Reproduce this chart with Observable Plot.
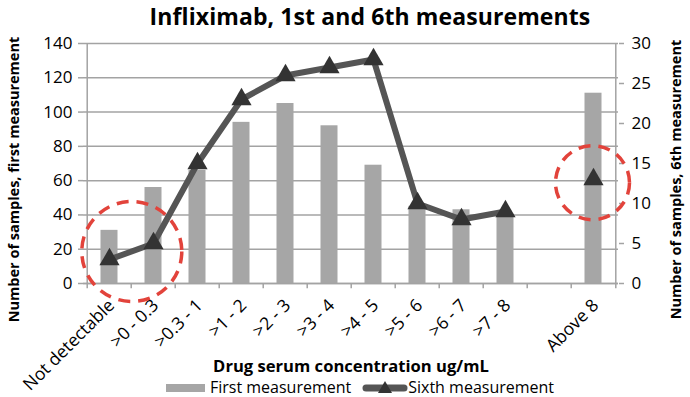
<!DOCTYPE html>
<html>
<head>
<meta charset="utf-8">
<script src="https://cdn.jsdelivr.net/npm/d3@7"></script>
<script src="https://cdn.jsdelivr.net/npm/@observablehq/plot@0.6"></script>
<style>
  body { margin: 0; background: #fff; font-family: "Open Sans", sans-serif; }
  #wrap { width: 690px; height: 397px; position: relative; overflow: hidden; }
  #title { height: 28px; line-height: 32px; padding-left: 50px; text-align: center; font-weight: bold; font-size: 23px; letter-spacing: 0.1px; color: #000; position: relative; z-index: 2; white-space: nowrap; }
  #chart svg { overflow: visible; display: block; }
  #legend { height: 19px; padding-left: 30px; display: flex; justify-content: center; align-items: center; font-size: 16px; line-height: 19px; color: #000; }
  .sw-bar { display: inline-block; width: 39px; height: 8px; background: #a6a6a6; margin-right: 5px; }
  .sw-line { display: inline-block; width: 46px; height: 16px; margin-left: 11px; margin-right: 0px; }
  svg text { font-family: "Open Sans", sans-serif; }
</style>
</head>
<body>
<div id="wrap">
  <div id="title">Infliximab, 1st and 6th measurements</div>
  <div id="chart"></div>
  <div id="legend"><span class="sw-bar"></span><span>First measurement</span><svg class="sw-line" width="46" height="16"><line x1="4" y1="8" x2="42" y2="8" stroke="#555" stroke-width="7" stroke-linecap="round"/><path d="M23,1 L30,13 L16,13 Z" fill="#333"/></svg><span>Sixth measurement</span></div>
</div>
<script>
const categories = ["Not detectable", ">0 - 0.3", ">0.3 - 1", ">1 - 2", ">2 - 3", ">3 - 4", ">4 - 5", ">5 - 6", ">6 - 7", ">7 - 8", " ", "Above 8"];
const firstMeasurement = [31, 56, 66, 94, 105, 92, 69, 45, 43, 40, null, 111];
const sixthMeasurement = [3, 5, 15, 23, 26, 27, 28, 10, 8, 9, null, 13];
const leftTicks = [0, 20, 40, 60, 80, 100, 120, 140];
const rightTicks = [0, 5, 10, 15, 20, 25, 30];
const leftMax = 140, rightMax = 30;
// dashed highlight rings (annotation): category, level on the 6th-measurement axis
const ringLow = {category: "Not detectable", value: 4};
const ringHigh = {category: "Above 8", value: 12.6};

const toLeft = v => v * leftMax / rightMax;
const rows = categories.map((c, i) => ({c, first: firstMeasurement[i], sixth: sixthMeasurement[i] == null ? null : toLeft(sixthMeasurement[i])}));

const W = 690, H = 350, mL = 83, mR = 72, mT = 15, mB = 95;
const step = (W - mL - mR) / categories.length;
const grey = "#a3a3a3";
const red = "#e2433b";

const chart = Plot.plot({
  width: W, height: H,
  marginLeft: mL, marginRight: mR, marginTop: mT, marginBottom: mB,
  style: {fontFamily: "Open Sans, sans-serif", color: "#000", background: "transparent", overflow: "visible"},
  x: {domain: categories, padding: 0},
  y: {domain: [0, leftMax]},
  marks: [
    Plot.gridY(leftTicks, {stroke: grey, strokeOpacity: 1, strokeWidth: 1.5}),
    Plot.ruleX([categories[0]], {dx: -step / 2, stroke: grey, strokeWidth: 1.5}),
    Plot.ruleX([categories[categories.length - 1]], {dx: step / 2, stroke: grey, strokeWidth: 1.5}),
    Plot.ruleX(categories, {dx: -step / 2, y1: 0, y2: -3, stroke: grey, strokeWidth: 1.5}),
    Plot.ruleX([categories[categories.length - 1]], {dx: step / 2, y1: 0, y2: -3, stroke: grey, strokeWidth: 1.5}),
    Plot.barY(rows.filter(d => d.first != null), {x: "c", y: "first", fill: "#a6a6a6", insetLeft: 13.5, insetRight: 13.5}),
    Plot.axisY(leftTicks, {anchor: "left", tickSize: 5, tickPadding: 6, stroke: grey, strokeWidth: 1.5, fontSize: 17, label: null}),
    Plot.axisY(rightTicks.map(toLeft), {anchor: "right", tickSize: 5, tickPadding: 8, stroke: grey, strokeWidth: 1.5, fontSize: 17, tickFormat: d => Math.round(d * rightMax / leftMax), label: null}),
    Plot.axisX({tickRotate: -45, tickSize: 0, tickPadding: 19, dx: 2, fontSize: 17.5, label: null, tickFormat: d => d.trim()}),
    Plot.ruleY([0], {stroke: grey, strokeWidth: 1.5}),
    Plot.line(rows, {x: "c", y: "sixth", stroke: "#555", strokeWidth: 6, curve: "linear"}),
    Plot.dot(rows.filter(d => d.sixth != null), {x: "c", y: "sixth", symbol: "triangle", r: 7.5, fill: "#333", stroke: "none"}),
    Plot.dot([ringLow], {x: "category", y: d => toLeft(d.value), r: 50, dx: step / 2, fill: "none", stroke: red, strokeWidth: 3.5, strokeDasharray: "12,8"}),
    Plot.dot([ringHigh], {x: "category", y: d => toLeft(d.value), r: 37, dx: -1, fill: "none", stroke: red, strokeWidth: 3.5, strokeDasharray: "12,8"}),
    Plot.text(["Drug serum concentration ug/mL"], {frameAnchor: "bottom", lineAnchor: "middle", dy: 83, fontSize: 16.6, fontWeight: "bold"}),
    Plot.text(["Number of samples, first measurement"], {frameAnchor: "left", textAnchor: "middle", lineAnchor: "middle", dx: -69, dy: 16, rotate: -90, fontSize: 14.5, fontWeight: "bold"}),
    Plot.text(["Number of samples, 6th measurement"], {frameAnchor: "right", textAnchor: "middle", lineAnchor: "middle", dx: 58, dy: 16, rotate: -90, fontSize: 14.5, fontWeight: "bold"})
  ]
});
document.getElementById("chart").appendChild(chart);
</script>
</body>
</html>
